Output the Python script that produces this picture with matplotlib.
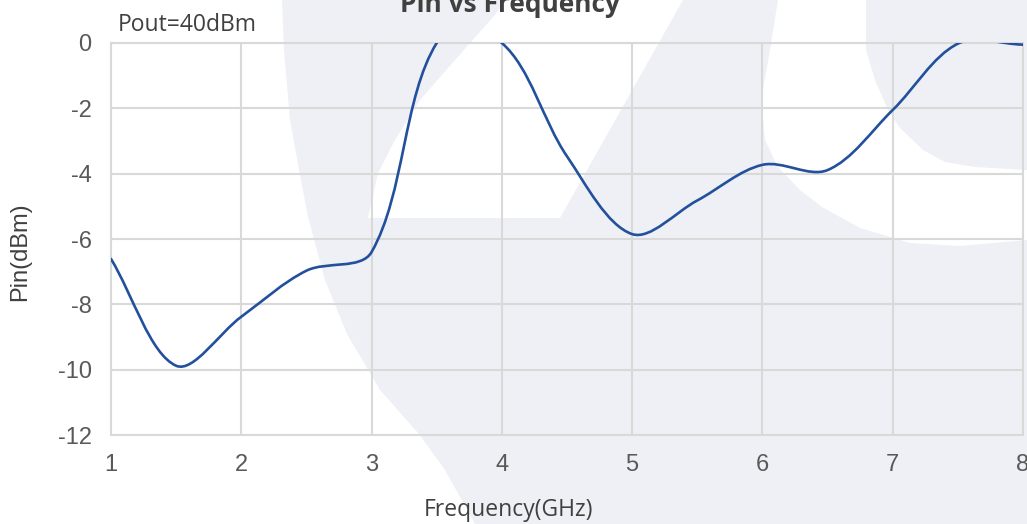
import matplotlib
matplotlib.use("Agg")
import numpy as np
import matplotlib.pyplot as plt
from matplotlib.path import Path
from matplotlib.patches import PathPatch, Polygon

plt.rcParams["axes.unicode_minus"] = False

# ---- data ----
freq_ghz = [1.0, 1.5, 2.0, 2.5, 3.0, 3.5, 4.0, 4.5, 5.0, 5.5, 6.0, 6.5, 7.0, 7.5, 8.0]
pin_dbm = [-6.61, -9.88, -8.38, -6.97, -6.40, 0.0, 0.0, -3.47, -5.85, -4.82, -3.73, -3.89, -2.05, -0.02, -0.05]
x_ticks = [1, 2, 3, 4, 5, 6, 7, 8]
y_ticks = [0, -2, -4, -6, -8, -10, -12]
title = "Pin vs Frequency"
note = "Pout=40dBm"
x_label = "Frequency(GHz)"
y_label = "Pin(dBm)"

W, H = 1027, 524
fig = plt.figure(figsize=(W / 100, H / 100), dpi=100)
fig.patch.set_facecolor("white")


def fp(pts):
    return [(x / W, 1 - y / H) for x, y in pts]


# ---- background watermark (light logo shape) ----
shade = "#EFF0F5"
big = [(282, 0), (284, 50), (290, 120), (300, 175), (308, 217), (325, 280), (347, 334),
       (380, 390), (419, 434), (445, 470), (475, 524), (W, H), (W, 0)]
w1 = [(368, 218), (560, 218), (683, 0), (505, 0), (495, 15), (470, 43), (420, 100),
      (395, 140), (378, 173), (372, 200)]
w2 = [(778, 0), (770, 50), (761, 100), (765, 140), (778, 167), (800, 190), (822, 207),
      (860, 228), (910, 243), (960, 246), (W, 240), (W, 170), (975, 167), (945, 162),
      (923, 150), (900, 128), (888, 110), (875, 80), (866, 50), (866, 0)]
fig.add_artist(Polygon(fp(big), closed=True, transform=fig.transFigure,
                       facecolor=shade, edgecolor="none", zorder=0))
for shp in (w1, w2):
    fig.add_artist(Polygon(fp(shp), closed=True, transform=fig.transFigure,
                           facecolor="white", edgecolor="none", zorder=0))

# ---- axes ----
left, right, top, bottom = 111, 1023, 43, 435
ax = fig.add_axes([left / W, 1 - bottom / H, (right - left) / W, (bottom - top) / H])
ax.set_facecolor("none")
ax.set_xlim(1, 8)
ax.set_ylim(-12, 0)
ax.set_xticks(x_ticks)
ax.set_yticks(y_ticks)
grid_c = "#D9D9D9"
ax.grid(True, color=grid_c, lw=1.5)
ax.set_axisbelow(True)
for s in ax.spines.values():
    s.set_color(grid_c)
    s.set_linewidth(1.5)
ax.tick_params(length=0, colors="#595959", labelsize=17, pad=14)
for lab in ax.get_xticklabels() + ax.get_yticklabels():
    lab.set_fontfamily("Liberation Sans")

# smoothed (Excel-like, distance weighted) Bezier curve through the data points
P = ax.transData.transform(np.column_stack([freq_ghz, pin_dbm]))
n = len(P)
d = np.hypot(*(P[1:] - P[:-1]).T)  # screen length of each segment
ctrl = []
for i in range(n - 1):
    a = max(i - 1, 0)
    b = min(i + 2, n - 1)
    dl = d[i - 1] if i > 0 else 0.0
    dr = d[i + 1] if i + 2 < n else 0.0
    c1 = P[i] + (P[i + 1] - P[a]) * (d[i] / (dl + d[i])) / 3
    c2 = P[i + 1] - (P[b] - P[i]) * (d[i] / (d[i] + dr)) / 3
    ctrl.append((c1, c2))
inv = ax.transData.inverted()
verts = [tuple(inv.transform(P[0]))]
codes = [Path.MOVETO]
for i, (c1, c2) in enumerate(ctrl):
    verts += [tuple(inv.transform(c1)), tuple(inv.transform(c2)), (freq_ghz[i + 1], pin_dbm[i + 1])]
    codes += [Path.CURVE4] * 3
ax.add_patch(PathPatch(Path(verts, codes), facecolor="none", edgecolor="#22509C",
                       lw=1.9, zorder=3, capstyle="round", joinstyle="round"))

# ---- texts ----
txt_c = "#404040"
fig.text(510 / W, 1 - 12 / H, title, ha="center", va="baseline", fontsize=19,
         fontweight="bold", family="Open Sans", color=txt_c)
fig.text(118 / W, 1 - 31 / H, note, ha="left", va="baseline", fontsize=16.5,
         family="Open Sans", color=txt_c)
fig.text(508 / W, 1 - 516 / H, x_label, ha="center", va="baseline", fontsize=16.5,
         family="Open Sans", color=txt_c)
fig.text(20 / W, 1 - 252 / H, y_label, ha="center", va="center", rotation=90,
         fontsize=17, family="Liberation Sans", color=txt_c)

fig.savefig("out.png", dpi=100)
